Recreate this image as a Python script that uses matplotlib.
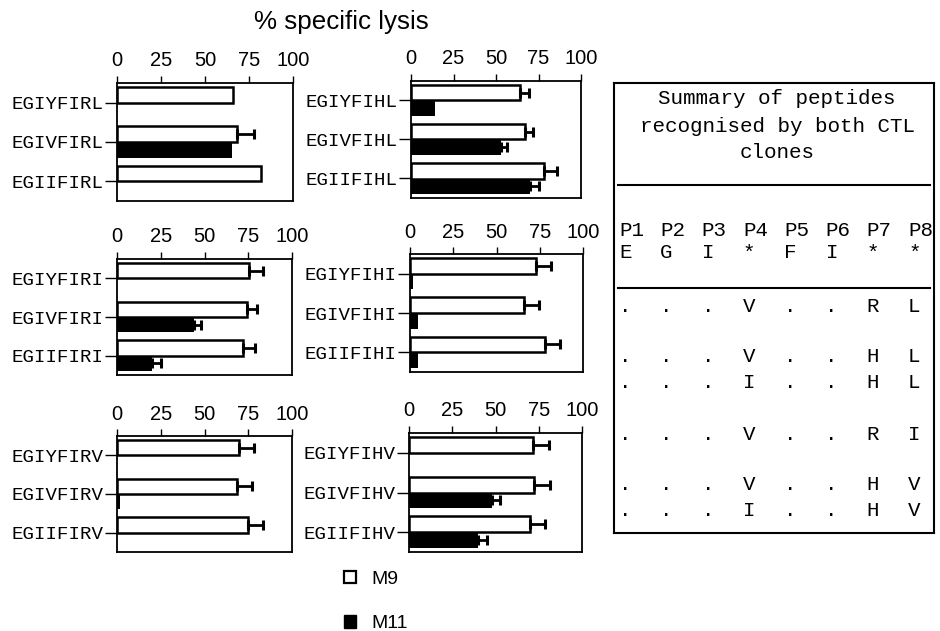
import matplotlib
matplotlib.use("Agg")
import matplotlib.pyplot as plt
from matplotlib.patches import Patch
import numpy as np

# ---------------- data ----------------
p1_peptides = ["EGIYFIRL", "EGIVFIRL", "EGIIFIRL"]
p1_m9 = [66, 68, 82]
p1_m9_err = [0, 10, 0]
p1_m11 = [0, 65.5, 0]
p1_m11_err = [0, 0, 0]

p2_peptides = ["EGIYFIHL", "EGIVFIHL", "EGIIFIHL"]
p2_m9 = [64, 67, 78]
p2_m9_err = [5.5, 5, 8]
p2_m11 = [14, 53, 70]
p2_m11_err = [0, 3.7, 5.5]

p3_peptides = ["EGIYFIRI", "EGIVFIRI", "EGIIFIRI"]
p3_m9 = [75.7, 74.5, 72.2]
p3_m9_err = [8, 5.3, 6.7]
p3_m11 = [0, 44, 20]
p3_m11_err = [0, 4, 5]

p4_peptides = ["EGIYFIHI", "EGIVFIHI", "EGIIFIHI"]
p4_m9 = [73, 66, 78]
p4_m9_err = [8.7, 8.7, 8.5]
p4_m11 = [1.9, 4.6, 4.8]
p4_m11_err = [0, 0, 0]

p5_peptides = ["EGIYFIRV", "EGIVFIRV", "EGIIFIRV"]
p5_m9 = [69.8, 68.7, 75]
p5_m9_err = [8.4, 8.2, 8.6]
p5_m11 = [0, 1.5, 0]
p5_m11_err = [0, 0, 0]

p6_peptides = ["EGIYFIHV", "EGIVFIHV", "EGIIFIHV"]
p6_m9 = [71.7, 72.3, 69.8]
p6_m9_err = [9.2, 9, 8.7]
p6_m11 = [0, 48, 40]
p6_m11_err = [0, 4.4, 4.8]

x_ticks = [0, 25, 50, 75, 100]
x_ticklabels = ["0", "25", "50", "75", "100"]

title = "% specific lysis"
series_names = ["M9", "M11"]

table_title = ["Summary of peptides", "recognised by both CTL", "clones"]
table_positions = ["P1", "P2", "P3", "P4", "P5", "P6", "P7", "P8"]
table_consensus = ["E", "G", "I", "*", "F", "I", "*", "*"]
table_rows = [
    [".", ".", ".", "V", ".", ".", "R", "L"],
    [".", ".", ".", "V", ".", ".", "H", "L"],
    [".", ".", ".", "I", ".", ".", "H", "L"],
    [".", ".", ".", "V", ".", ".", "R", "I"],
    [".", ".", ".", "V", ".", ".", "H", "V"],
    [".", ".", ".", "I", ".", ".", "H", "V"],
]

# ---------------- layout ----------------
W, H = 940, 631
fig = plt.figure(figsize=(W / 100, H / 100), dpi=100)
SANS = "Liberation Sans"
MONO = "Liberation Mono"


def ax_px(x0, x1, y0, y1):
    return fig.add_axes([x0 / W, 1 - y1 / H, (x1 - x0) / W, (y1 - y0) / H])


panels = [
    ((117, 293, 83, 201), p1_peptides, p1_m9, p1_m9_err, p1_m11, p1_m11_err),
    ((411, 581, 81, 198), p2_peptides, p2_m9, p2_m9_err, p2_m11, p2_m11_err),
    ((117, 292, 259, 375), p3_peptides, p3_m9, p3_m9_err, p3_m11, p3_m11_err),
    ((410, 583, 254, 372), p4_peptides, p4_m9, p4_m9_err, p4_m11, p4_m11_err),
    ((117, 292, 436, 552), p5_peptides, p5_m9, p5_m9_err, p5_m11, p5_m11_err),
    ((409, 582, 433, 552), p6_peptides, p6_m9, p6_m9_err, p6_m11, p6_m11_err),
]

bh = 0.4
for (box, peps, m9, m9e, m11, m11e) in panels:
    ax = ax_px(*box)
    y = np.arange(len(peps)) + 0.5
    m9 = np.array(m9, float); m11 = np.array(m11, float)
    m9e = np.array(m9e, float); m11e = np.array(m11e, float)
    ax.barh(y - bh / 2, m9, height=bh, color="white", edgecolor="black", linewidth=1.8, zorder=2)
    ax.barh(y + bh / 2, m11, height=bh, color="black", edgecolor="none", zorder=2)
    k = m9e > 0
    if k.any():
        ax.errorbar(m9[k], (y - bh / 2)[k], xerr=[np.zeros(k.sum()), m9e[k]], fmt="none",
                    ecolor="black", elinewidth=2, capsize=3.4, capthick=2.2, zorder=3)
    k = m11e > 0
    if k.any():
        ax.errorbar(m11[k], (y + bh / 2)[k], xerr=[np.zeros(k.sum()), m11e[k]], fmt="none",
                    ecolor="black", elinewidth=2, capsize=3.4, capthick=2.2, zorder=3)
    ax.set_xlim(0, 100)
    ax.set_ylim(len(peps), 0)
    ax.set_xticks(x_ticks)
    ax.set_xticklabels(x_ticklabels, fontsize=14.5, fontfamily=SANS)
    ax.xaxis.tick_top()
    ax.tick_params(axis="x", direction="out", length=5, width=1, pad=4)
    ax.set_yticks(y)
    ax.set_yticklabels(peps, fontsize=13.8, fontfamily=MONO)
    ax.tick_params(axis="y", direction="out", length=9, width=1, pad=0.5)
    for s in ax.spines.values():
        s.set_linewidth(1.3)

fig.text(341 / W, 1 - 22 / H, title, ha="center", va="center", fontsize=18.7, fontfamily=SANS)

# legend
handles = [Patch(facecolor="white", edgecolor="black", linewidth=1.6),
           Patch(facecolor="black", edgecolor="black")]
fig.legend(handles=handles, labels=series_names, loc="upper left",
           bbox_to_anchor=(326 / W, 1 - 553 / H), frameon=False,
           prop={"family": SANS, "size": 14}, handlelength=0.65, handleheight=0.65,
           labelspacing=1.4, handletextpad=0.8)

# summary table
axt = ax_px(614, 934, 83, 533)
axt.set_xlim(614, 934)
axt.set_ylim(533, 83)
axt.set_xticks([]); axt.set_yticks([])
for s in axt.spines.values():
    s.set_linewidth(1.5)
for txt, yy in zip(table_title, [99, 126, 153]):
    axt.text(777, yy, txt, ha="center", va="center", fontsize=15, fontfamily=MONO)
axt.plot([618, 930], [185, 185], color="black", lw=1.5)
axt.plot([618, 930], [288, 288], color="black", lw=1.5)
col_x = [619 + 41.3 * i for i in range(8)]
for i, (p, c) in enumerate(zip(table_positions, table_consensus)):
    axt.text(col_x[i], 231, p, ha="left", va="center", fontsize=15, fontfamily=MONO)
    axt.text(col_x[i], 253, c, ha="left", va="center", fontsize=15, fontfamily=MONO)
row_y = [307, 357, 383, 435, 485, 511]
for row, yy in zip(table_rows, row_y):
    for i, c in enumerate(row):
        axt.text(col_x[i], yy, c, ha="left", va="center", fontsize=15, fontfamily=MONO)

fig.savefig("out.png", dpi=100)
